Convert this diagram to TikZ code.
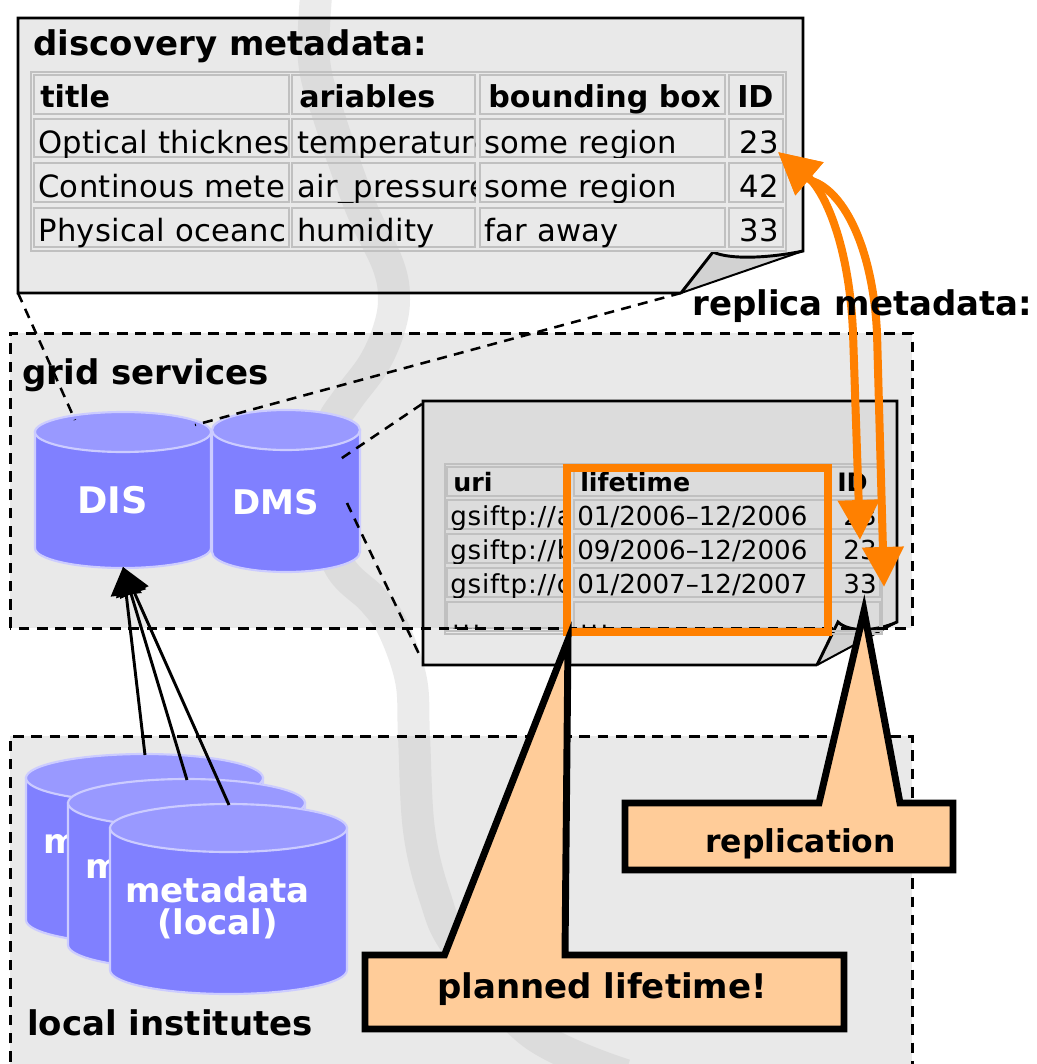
\documentclass[tikz,border=0pt]{standalone}
\usepackage{fontspec}
\setmainfont{DejaVu Sans}
\usetikzlibrary{arrows.meta}
\definecolor{orng}{HTML}{FF8000}
\definecolor{peach}{HTML}{FFCC99}
\definecolor{cylside}{HTML}{8080FF}
\definecolor{cyltop}{HTML}{9999FF}
\definecolor{cylline}{HTML}{CCCCFF}
\definecolor{tblline}{HTML}{C0C0C0}
\definecolor{foldgray}{HTML}{D2D2D2}
\definecolor{lightfill}{HTML}{E9E9E9}
\definecolor{darkfill}{HTML}{DCDCDC}
\definecolor{bandwhite}{HTML}{EBEBEB}
\tikzset{
  px/.style={x=.75pt,y=-.75pt},
  ttl/.style={font=\fontsize{25.5}{24}\selectfont\bfseries,inner sep=0pt,anchor=base west},
  dbl/.style={ttl,text=white},
  mdl/.style={dbl,anchor=center,align=center,font=\fontsize{25.5}{24}\selectfont\bfseries},
  bigh/.style={font=\fontsize{22.6}{24}\selectfont\bfseries,inner sep=0pt,anchor=base west},
  bigc/.style={font=\fontsize{23}{24}\selectfont\addfontfeature{LetterSpace=1},inner sep=0pt,anchor=base west},
  bign/.style={bigc,anchor=base east},
  smh/.style={font=\fontsize{19}{20}\selectfont\bfseries,inner sep=0pt,anchor=base west},
  smc/.style={font=\fontsize{19.6}{20}\selectfont,inner sep=0pt,anchor=base west},
  smw/.style={font=\fontsize{19.6}{20}\selectfont\addfontfeature{LetterSpace=3},inner sep=0pt,anchor=base west},
  smn/.style={smc,anchor=base east},
  regionline/.style={line width=2.25pt,dash pattern=on 8pt off 5.7pt},
  linkdash/.style={line width=1.9pt,dash pattern=on 7.5pt off 5.5pt},
  sheetline/.style={line width=2.2pt,line join=miter},
  cellbox/.style={draw=tblline,line width=1.2pt},
  tblframe/.style={draw=tblline,line width=1.9pt},
  band/.style={line width=24pt},
  callout/.style={fill=peach,draw=black,line width=5.2pt,miter limit=12},
  orangebox/.style={draw=orng,line width=5.6pt},
  orangearrow/.style={draw=orng,line width=6pt,line join=round,{Triangle[length=31pt,width=31pt]}-{Triangle[length=30pt,width=30pt]}},
  feed/.style={draw=black,line width=2.2pt,-{Triangle[length=21pt,width=23pt]}},
}
\newcommand{\bandpath}[1]{%
  \draw[band,#1] plot[smooth,tension=.6] coordinates {(317,-15) (314,60) (330,120) (360,205) (388,265) (394,300) (388,332) (373,365) (347,400) (330,430) (322,490) (338,563) (373,600) (393,628) (411,680) (414,736) (419,830) (435,897) (458,947) (532,1033) (625,1075)};
}
\newcommand{\tcell}[9]{%
  \draw[cellbox] (#2,#3) rectangle (#4,#5);
  \begin{scope}
    \clip (#2,#3) rectangle (#4,#5);
    \node[#8] (#1) at (#6,#7) {#9};
  \end{scope}
}
\newcommand{\dbcyl}[6]{%
  \pgfmathsetmacro{\cxl}{#1-#3}
  \pgfmathsetmacro{\cxr}{#1+#3}
  \pgfmathsetmacro{\cyb}{#2+#5}
  \pgfmathsetmacro{\rxpt}{#3*.75}
  \pgfmathsetmacro{\rypt}{#4*.75}
  \fill[cylside,draw=cylline,line width=1.6pt]
    (\cxl,#2) -- (\cxl,\cyb) arc[start angle=180,end angle=360,x radius=\rxpt pt,y radius=\rypt pt] -- (\cxr,#2) -- cycle;
  \fill[cyltop,draw=cylline,line width=1.6pt] (#1,#2) ellipse[x radius=\rxpt pt,y radius=\rypt pt];
  #6
}
\begin{document}
\begin{tikzpicture}[px]
\useasboundingbox (0,0) rectangle (1037,1064);
\clip (0,0) rectangle (1037,1064);
% regions and discovery sheet fill
\fill[lightfill] (10,333) rectangle (912,628);
\fill[lightfill] (10,736) rectangle (912,1080);
\fill[lightfill] (18,18) -- (803,18) -- (803,251) .. controls (770,258) and (730,260) .. (713,252) -- (681,293) -- (18,293) -- cycle;
% background band
\begin{scope}
  \clip (0,0) rectangle (1037,18) (0,293) rectangle (1037,333) (0,628) rectangle (1037,736);
  \bandpath{bandwhite}
\end{scope}
\begin{scope}
  \clip (0,18) rectangle (1037,293) (0,333) rectangle (1037,628) (0,736) rectangle (1037,1064);
  \bandpath{darkfill}
\end{scope}
% discovery sheet
\fill[foldgray] (803,251) .. controls (770,258) and (730,260) .. (713,252) -- (681,293) -- cycle;
\draw[sheetline] (681,293) -- (18,293) -- (18,18) -- (803,18) -- (803,251) .. controls (770,258) and (730,260) .. (713,252) -- (681,293);
\draw[line width=1.5pt] (681,293) -- (803,251);
\node[ttl] (dmtitle) at (33,55) {discovery metadata:};
\draw[tblframe] (31,72) rectangle (786,251);
\tcell{a1}{34}{75}{289}{114}{40}{107}{bigh}{title}
\tcell{a2}{292}{75}{475}{114}{299}{107}{bigh}{ariables}
\tcell{a3}{480}{75}{725}{114}{488}{107}{bigh}{bounding box}
\tcell{a4}{729}{75}{783}{114}{737}{107}{bigh}{ID}
\tcell{b1}{34}{119}{289}{157}{38}{153}{bigc}{Optical thicknes}
\tcell{b2}{292}{119}{475}{157}{297}{153}{bigc}{temperature}
\tcell{b3}{480}{119}{725}{157}{484}{153}{bigc}{some region}
\tcell{b4}{729}{119}{783}{157}{779}{153}{bign}{23}
\tcell{c1}{34}{163}{289}{202}{38}{197}{bigc}{Continous mete}
\tcell{c2}{292}{163}{475}{202}{297}{197}{bigc}{air\_pressure}
\tcell{c3}{480}{163}{725}{202}{484}{197}{bigc}{some region}
\tcell{c4}{729}{163}{783}{202}{779}{197}{bign}{42}
\tcell{d1}{34}{208}{289}{247}{38}{241}{bigc}{Physical oceanc}
\tcell{d2}{292}{208}{475}{247}{297}{241}{bigc}{humidity}
\tcell{d3}{480}{208}{725}{247}{484}{241}{bigc}{far away}
\tcell{d4}{729}{208}{783}{247}{779}{241}{bign}{33}
% replica sheet
\begin{scope}
  \clip (0,0) rectangle (1037,628);
  \fill[darkfill] (423,401) -- (897,401) -- (897,622) .. controls (875,632) and (848,632) .. (838,622) -- (817,665) -- (423,665) -- cycle;
\end{scope}
\begin{scope}
  \clip (0,628) rectangle (1037,1064);
  \fill[lightfill] (423,401) -- (897,401) -- (897,622) .. controls (875,632) and (848,632) .. (838,622) -- (817,665) -- (423,665) -- cycle;
\end{scope}
\fill[foldgray] (897,622) .. controls (875,632) and (848,632) .. (838,622) -- (817,665) -- cycle;
\draw[sheetline] (817,665) -- (423,665) -- (423,401) -- (897,401) -- (897,622) .. controls (875,632) and (848,632) .. (838,622) -- (817,665);
\draw[line width=1.5pt] (817,665) -- (897,622);
\draw[tblframe] (445,464) rectangle (882,634);
\tcell{e1}{447}{467}{567}{496}{453}{491}{smh}{uri}
\tcell{e2}{574}{467}{826}{496}{580}{491}{smh}{lifetime}
\tcell{e3}{830}{467}{880}{496}{837}{491}{smh}{ID}
\tcell{f1}{447}{500}{567}{529}{450}{525}{smw}{gsiftp://a}
\tcell{f2}{574}{500}{826}{529}{577}{525}{smc}{01/2006--12/2006}
\tcell{f3}{830}{500}{880}{529}{877}{525}{smn}{23}
\tcell{g1}{447}{534}{567}{563}{450}{559}{smw}{gsiftp://b}
\tcell{g2}{574}{534}{826}{563}{577}{559}{smc}{09/2006--12/2006}
\tcell{g3}{830}{534}{880}{563}{877}{559}{smn}{23}
\tcell{h1}{447}{568}{567}{597}{450}{593}{smw}{gsiftp://c}
\tcell{h2}{574}{568}{826}{597}{577}{593}{smc}{01/2007--12/2007}
\tcell{h3}{830}{568}{880}{597}{877}{593}{smn}{33}
\tcell{i1}{447}{602}{567}{628}{452}{643}{smc}{ttt}
\tcell{i2}{574}{602}{826}{628}{580}{643}{smc}{ttt}
\draw[cellbox] (447,602) rectangle (567,631) (574,602) rectangle (826,631) (830,602) rectangle (880,631);
% grid region outline and cylinders
\dbcyl{123}{432}{88}{20}{116}{\node[dbl,font=\fontsize{27.5}{24}\selectfont\bfseries] (dis) at (77,513) {DIS};}
\dbcyl{286}{430}{74}{20}{122}{\node[dbl] (dms) at (232,514) {DMS};}
\draw[regionline] (10,628) -- (10,333) -- (912,333) -- (912,628) -- cycle;
\node[ttl] (gridtitle) at (22,384) {grid services};
% local cylinders
\dbcyl{144.5}{778}{118.5}{24}{142}{\node[dbl] (m1) at (43,853) {m};}
\dbcyl{186.5}{803}{118.5}{24}{142}{\node[dbl] (m2) at (85,878) {m};}
\dbcyl{228.5}{828}{118.5}{24}{142}{\node[mdl] (m3) at (217.5,908) {metadata\\(local)};}
\draw[regionline] (10,1080) -- (10,736) -- (912,736) -- (912,1080);
\node[ttl] (localtitle) at (27,1035) {local institutes};
% dashed links
\coordinate (aL) at (18,293);
\coordinate (aR) at (681,293);
\coordinate (disTopL) at (75,420);
\coordinate (disTopR) at (195,425);
\coordinate (bT) at (422,404);
\coordinate (bB) at (419,654);
\coordinate (dmsT) at (339,460);
\coordinate (dmsB) at (347,503);
\draw[linkdash] (aL) -- (disTopL);
\draw[linkdash] (aR) -- (disTopR);
\draw[linkdash] (bT) -- (dmsT);
\draw[linkdash] (dmsB) -- (bB);
% feed arrows
\coordinate (disTip) at (123,567);
\coordinate (f1c) at (145,755);
\coordinate (f2c) at (187,780);
\coordinate (f3c) at (229,805);
\draw[feed] (f1c) -- (disTip);
\draw[feed] (f2c) -- (disTip);
\draw[feed] (f3c) -- (disTip);
% orange
\coordinate (idTop) at (778,152);
\coordinate (idA) at (860,540);
\coordinate (idB) at (884,587);
\draw[orangebox] (567,468) rectangle (828,632);
\draw[orangearrow] (idTop) -- (812,181) .. controls (832,205) and (850,260) .. (853,333) -- (idA);
\draw[orangearrow] (idTop) -- (812,181) .. controls (845,192) and (873,250) .. (877,333) -- (idB);
\node[ttl] (replicatitle) at (692,315) {replica metadata:};
% callouts
\draw[callout] (365,955) -- (444.5,955) -- (568,640) -- (565,955) -- (844,955) -- (844,1029) -- (365,1029) -- cycle;
\node[ttl] (lifetimelabel) at (437,998) {planned lifetime!};
\draw[callout] (625,803) -- (819,803) -- (864,611) -- (900,803) -- (953,803) -- (953,870) -- (625,870) -- cycle;
\node[ttl,font=\fontsize{23.6}{24}\selectfont\bfseries] (replicationlabel) at (705,852) {replication};
\end{tikzpicture}
\end{document}
